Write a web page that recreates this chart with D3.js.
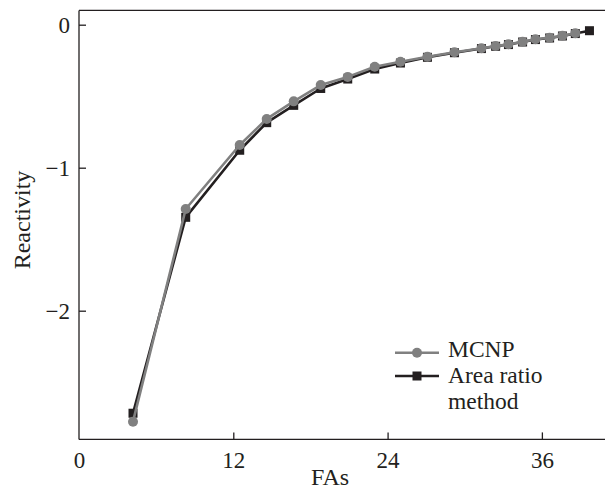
<!DOCTYPE html>
<html><head><meta charset="utf-8">
<script src="https://cdn.jsdelivr.net/npm/d3@7"></script>
<style>html,body{margin:0;padding:0;background:#fff;} svg{display:block;} text{font-family:"Liberation Serif","Times New Roman",Times,serif;}</style>
</head><body>
<svg id="chart" width="605" height="490"></svg>
<script>
// Data (x positions in axis units)
const faX = [4.2, 8.3, 12.5, 14.6, 16.7, 18.8, 20.9, 23.0, 25.0, 27.1, 29.2, 31.3, 32.4, 33.4, 34.5, 35.5, 36.6, 37.6, 38.6, 39.7];
const mcnp = [-2.776, -1.289, -0.841, -0.659, -0.536, -0.422, -0.365, -0.294, -0.259, -0.224, -0.193, -0.165, -0.149, -0.137, -0.119, -0.102, -0.091, -0.077, -0.060];
const areaRatio = [-2.717, -1.347, -0.878, -0.685, -0.564, -0.446, -0.38, -0.31, -0.268, -0.228, -0.196, -0.167, -0.151, -0.139, -0.121, -0.104, -0.093, -0.079, -0.062, -0.042];
const xTicks = [0, 12, 24, 36];
const yTicks = [0, -1, -2];
const seriesNames = ["MCNP", "Area ratio", "method"];

const svg = d3.select("#chart");
const ink = "#231f20";
const grey = "#808080";

const x = d3.scaleLinear().domain([0, 41.5]).range([79, 612.6]);
const y = d3.scaleLinear().domain([-2.9, 0.1]).range([439.4, 10.4]);

// Frame: left, top, bottom
svg.append("line").attr("x1", x(0)).attr("x2", x(0)).attr("y1", y(0.1)).attr("y2", y(-2.9))
  .attr("stroke", ink).attr("stroke-width", 1.3);
svg.append("line").attr("x1", x(0)).attr("x2", 610).attr("y1", y(0.1)).attr("y2", y(0.1))
  .attr("stroke", ink).attr("stroke-width", 1.3);
svg.append("line").attr("x1", x(0)).attr("x2", 610).attr("y1", y(-2.9)).attr("y2", y(-2.9))
  .attr("stroke", ink).attr("stroke-width", 1.3);

// X axis
const xAxis = d3.axisBottom(x).tickValues(xTicks).tickSizeInner(-7).tickSizeOuter(0).tickPadding(12)
  .tickFormat(d3.format("d"));
const gx = svg.append("g").attr("transform", `translate(0,${y(-2.9)})`).call(xAxis);
gx.select(".domain").remove();
gx.selectAll(".tick line").attr("stroke", ink).attr("stroke-width", 1.3);
gx.selectAll(".tick").filter(d => d === 0).select("line").remove();
gx.selectAll(".tick text").attr("font-size", 23).attr("fill", ink).attr("dy", "0.71em");

// Y axis
const yAxis = d3.axisLeft(y).tickValues(yTicks).tickSizeInner(-7).tickSizeOuter(0).tickPadding(9)
  .tickFormat(d => d < 0 ? "\u2212" + Math.abs(d) : String(d));
const gy = svg.append("g").attr("transform", `translate(${x(0)},0)`).call(yAxis);
gy.select(".domain").remove();
gy.selectAll(".tick line").attr("stroke", ink).attr("stroke-width", 1.3);
gy.selectAll(".tick text").attr("font-size", 23).attr("fill", ink);
gx.attr("font-family", null); gy.attr("font-family", null);

// Axis titles
svg.append("text").attr("x", 330).attr("y", 485).attr("text-anchor", "middle")
  .attr("font-size", 24).attr("fill", ink).text("FAs");
svg.append("text").attr("transform", "translate(30,220) rotate(-90)").attr("text-anchor", "middle")
  .attr("font-size", 24).attr("fill", ink).text("Reactivity");

// Series
const line = d3.line().x(d => x(d[0])).y(d => y(d[1]));
const blackData = areaRatio.map((v, i) => [faX[i], v]);
const greyData = mcnp.map((v, i) => [faX[i], v]);

svg.append("path").datum(blackData).attr("d", line).attr("fill", "none")
  .attr("stroke", ink).attr("stroke-width", 2.6).attr("stroke-linejoin", "round");
svg.selectAll("rect.sq").data(blackData).join("rect").attr("class", "sq")
  .attr("x", d => x(d[0]) - 4.5).attr("y", d => y(d[1]) - 4.5)
  .attr("width", 9).attr("height", 9).attr("fill", ink);

svg.append("path").datum(greyData).attr("d", line).attr("fill", "none")
  .attr("stroke", grey).attr("stroke-width", 2.6).attr("stroke-linejoin", "round");
svg.selectAll("circle.pt").data(greyData).join("circle").attr("class", "pt")
  .attr("cx", d => x(d[0])).attr("cy", d => y(d[1])).attr("r", 5).attr("fill", grey);

// Legend
const lg = svg.append("g");
lg.append("line").attr("x1", 395).attr("x2", 439).attr("y1", 352.7).attr("y2", 352.7)
  .attr("stroke", grey).attr("stroke-width", 2.6);
lg.append("circle").attr("cx", 417).attr("cy", 352.7).attr("r", 5).attr("fill", grey);
lg.append("line").attr("x1", 395).attr("x2", 439).attr("y1", 376).attr("y2", 376)
  .attr("stroke", ink).attr("stroke-width", 2.6);
lg.append("rect").attr("x", 412.5).attr("y", 371.5).attr("width", 9).attr("height", 9).attr("fill", ink);
lg.append("text").attr("x", 448).attr("y", 357).attr("font-size", 23.5)
  .attr("fill", ink).text(seriesNames[0]);
lg.append("text").attr("x", 448).attr("y", 383).attr("font-size", 23.5)
  .attr("fill", ink).text(seriesNames[1]);
lg.append("text").attr("x", 448).attr("y", 409).attr("font-size", 23.5)
  .attr("fill", ink).text(seriesNames[2]);
</script>
</body></html>
